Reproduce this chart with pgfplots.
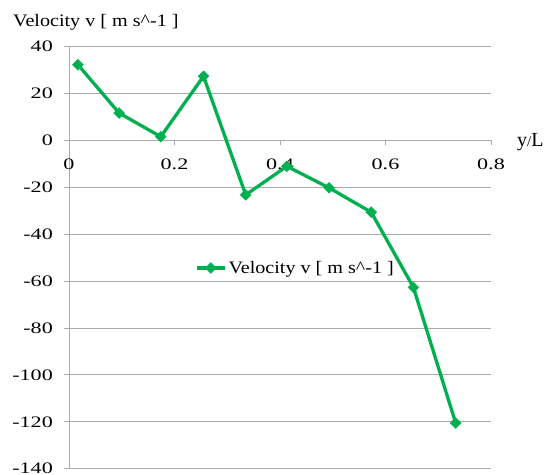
\documentclass[border=0pt]{standalone}
\usepackage{fontspec}
\setmainfont{Liberation Serif}
\newfontfamily\tickfont[FakeStretch=1.38]{Liberation Serif}
\newfontfamily\labfont[FakeStretch=1.15]{Liberation Serif}
\usepackage{pgfplots}
\pgfplotsset{compat=1.18}
\definecolor{exgreen}{RGB}{0,176,80}
\definecolor{gridgray}{RGB}{170,170,170}

\begin{document}
\begin{tikzpicture}
\begin{axis}[
  name=ax,
  scale only axis,
  clip=false,
  width=422pt, height=422pt,
  xmin=0, xmax=0.8,
  ymin=-140, ymax=40,
  axis x line=middle,
  axis y line=left,
  hide obscured x ticks=false,
  axis line style={gridgray, line width=1pt, -},
  xtick={0,0.2,0.4,0.6,0.8},
  xticklabels={0,0.2,0.4,0.6,0.8},
  ytick={-140,-120,-100,-80,-60,-40,-20,0,20,40},
  yticklabels={-140,-120,-100,-80,-60,-40,-20,0,20,40},
  ymajorgrids,
  grid style={gridgray, line width=1pt},
  tick style={gridgray, line width=1pt},
  tick align=outside,
  major tick length=5pt,
  x tick label style={font=\tickfont\fontsize{16}{16}\selectfont, anchor=north, inner sep=0pt, yshift=-13pt},
  y tick label style={font=\tickfont\fontsize{16}{16}\selectfont, anchor=east, inner sep=0pt, xshift=-11pt},
  legend style={draw=none, fill=none, at={(0.2986,0.4756)}, anchor=west,
    font=\labfont\fontsize{17.5}{17.5}\selectfont, inner sep=0pt},
  legend image code/.code={
    \draw[#1, mark repeat=2, mark phase=2] plot coordinates {(0pt,0pt) (14pt,0pt) (28pt,0pt)};
  },
]
\addplot[exgreen, line width=3.3pt, mark=square*, mark size=3.8pt,
  mark options={rotate=45, solid, line width=0.5pt}] coordinates {
  (0.017, 32.3)
  (0.095, 11.7)
  (0.174, 1.6)
  (0.255, 27.4)
  (0.335, -23.2)
  (0.413, -11.0)
  (0.493, -20.2)
  (0.573, -30.6)
  (0.653, -62.7)
  (0.733, -120.5)
};
\addlegendentry{Velocity v [ m s\textasciicircum-1 ]}
\node[anchor=base west, inner sep=0pt, font=\fontsize{20}{20}\selectfont]
  at (axis cs:0.8,0) [xshift=26pt, yshift=-6pt] {y{\fontsize{15}{15}\selectfont/}L};
\end{axis}
\node[anchor=base west, inner sep=0pt, font=\labfont\fontsize{17.5}{17.5}\selectfont]
  at ([xshift=-56pt, yshift=19.7pt]ax.north west) {Velocity v [ m s\textasciicircum-1 ]};
\pgfresetboundingbox
\path[use as bounding box] ([xshift=-69pt, yshift=-6.3pt]ax.south west) rectangle ([xshift=57pt, yshift=46.7pt]ax.north east);
\end{tikzpicture}
\end{document}
